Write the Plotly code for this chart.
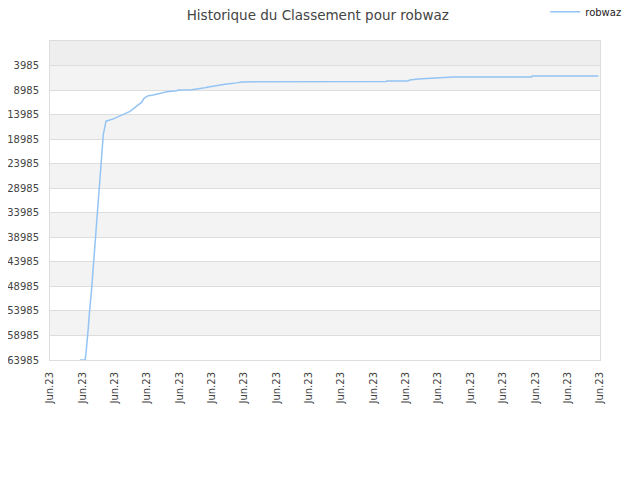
import plotly.graph_objects as go

# historique du classement (date, rang)
dates = [
    "2023-06-01 22:15", "2023-06-02 02:00", "2023-06-02 02:43", "2023-06-02 03:40",
    "2023-06-02 04:25", "2023-06-02 05:10", "2023-06-02 06:12", "2023-06-02 06:56",
    "2023-06-02 07:41", "2023-06-02 08:25", "2023-06-02 09:10", "2023-06-02 09:55",
    "2023-06-02 10:39", "2023-06-02 11:05", "2023-06-02 11:50", "2023-06-02 12:35",
    "2023-06-02 13:36", "2023-06-02 14:21", "2023-06-02 14:48", "2023-06-02 15:33",
    "2023-06-02 16:35", "2023-06-02 17:33", "2023-06-02 22:58", "2023-06-03 03:56",
    "2023-06-03 07:38", "2023-06-03 11:21", "2023-06-03 15:04", "2023-06-03 17:31",
    "2023-06-03 20:04", "2023-06-03 21:45", "2023-06-04 00:56", "2023-06-04 04:38",
    "2023-06-04 08:21", "2023-06-04 14:34", "2023-06-04 22:00", "2023-06-04 23:11",
    "2023-06-05 09:07", "2023-06-05 16:32", "2023-06-05 18:59", "2023-06-05 22:42",
    "2023-06-06 02:24", "2023-06-06 09:50", "2023-06-06 18:30", "2023-06-06 22:13",
    "2023-06-11 09:16", "2023-06-11 09:48", "2023-06-12 01:35", "2023-06-12 03:04",
    "2023-06-12 09:02", "2023-06-12 19:10", "2023-06-13 11:12", "2023-06-15 21:22",
    "2023-06-15 21:49", "2023-06-17 22:47",
]
rangs = [
    63985, 63985, 62585, 60385, 57385, 54585, 51985, 49385,
    46585, 43985, 41385, 38585, 35985, 33385, 30585, 27385,
    24585, 21600, 19985, 17985, 16652, 15318, 14852, 14318,
    13785, 13318, 12518, 11852, 11452, 10652, 10118, 9985,
    9785, 9318, 9118, 8985, 8918, 8718, 8518, 8318,
    8118, 7785, 7518, 7318, 7252, 7118, 7118, 6918,
    6718, 6518, 6318, 6318, 6118, 6118,
]
joueur = "robwaz"
graduations_y = [3985, 8985, 13985, 18985, 23985, 28985, 33985, 38985,
                 43985, 48985, 53985, 58985, 63985]
y_haut = -1015

fig = go.Figure()
fig.add_trace(go.Scatter(
    x=dates, y=rangs, name=joueur, mode="lines",
    line=dict(color="#94c4f4", width=1.5),
))

# bandes grises alternées
formes = [dict(type="rect", xref="paper", yref="y", x0=0, x1=1,
               y0=y_haut, y1=graduations_y[0], fillcolor="#eeeeee", line_width=0, layer="below")]
for k in range(0, len(graduations_y) - 1, 2):
    formes.append(dict(type="rect", xref="paper", yref="y", x0=0, x1=1,
                       y0=graduations_y[k], y1=graduations_y[k + 1],
                       fillcolor="#f3f3f3", line_width=0, layer="below"))

# la page ajoute ~8 px de marge autour du graphique : on compense
fig.update_layout(
    width=640, height=480,
    margin=dict(l=42, r=48, t=33, b=128, autoexpand=False),
    paper_bgcolor="white", plot_bgcolor="white",
    font=dict(family="DejaVu Sans", size=10, color="#444444"),
    title=dict(text="Historique du Classement pour robwaz", x=0.484, xanchor="center",
               y=0.994, yanchor="top", pad=dict(t=0), automargin=False,
               font=dict(size=13.5, color="#444444")),
    showlegend=True,
    legend=dict(x=0.966, xanchor="right", y=0.992, yanchor="middle", xref="container", yref="container",
                font=dict(size=10, color="#222222"), bgcolor="rgba(0,0,0,0)"),
    shapes=formes,
)
fig.update_xaxes(
    range=["2023-06-01", "2023-06-18"], dtick=86400000, tick0="2023-06-01",
    tickformat="%b.%y", tickangle=-90, showgrid=False, automargin=False,
    showline=True, linecolor="#dddddd", mirror=True, ticks="", ticklabelstandoff=7,
)
fig.update_yaxes(
    range=[graduations_y[-1], y_haut], tickvals=graduations_y, automargin=False,
    showgrid=True, gridcolor="#dddddd", zeroline=False, ticklabelstandoff=8,
    showline=True, linecolor="#dddddd", mirror=True, tickformat="d",
)

fig.write_html("out.html")
